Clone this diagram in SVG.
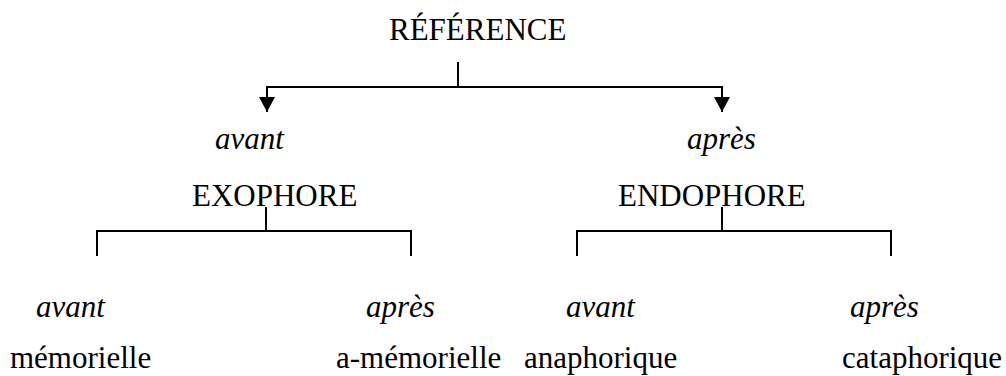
<svg xmlns="http://www.w3.org/2000/svg" width="1006" height="376" viewBox="0 0 1006 376">
<defs>
<style>
text{font-family:"Liberation Serif","Times New Roman",serif;font-size:31px;fill:#000}
.i{font-style:italic}
.c{stroke:#000;stroke-width:2;fill:none}
</style>
<marker id="arr" markerWidth="16" markerHeight="16" refX="8" refY="15" orient="0" markerUnits="userSpaceOnUse" viewBox="0 0 16 16">
<path d="M0,0 L16,0 L8,15 Z" fill="#000"/>
</marker>
</defs>
<rect width="1006" height="376" fill="#fff"/>
<g id="connectors">
<path class="c" d="M458,62 V87"/>
<path class="c" d="M266,87 H723"/>
<path class="c" d="M267,87 V112" marker-end="url(#arr)"/>
<path class="c" d="M722,87 V112" marker-end="url(#arr)"/>
<path class="c" d="M266,207 V231"/>
<path class="c" d="M97,256 V231 H411 V256"/>
<path class="c" d="M722,207 V231"/>
<path class="c" d="M577,256 V231 H891 V256"/>
</g>
<g id="reference"><text x="389" y="40">RÉFÉRENCE</text></g>
<g id="exo-avant"><text class="i" x="215" y="149">avant</text></g>
<g id="endo-apres"><text class="i" x="687" y="149">après</text></g>
<g id="exophore"><text x="192" y="206">EXOPHORE</text></g>
<g id="endophore"><text x="618" y="206">ENDOPHORE</text></g>
<g id="avant-1"><text class="i" x="36" y="317">avant</text></g>
<g id="apres-1"><text class="i" x="366" y="317">après</text></g>
<g id="avant-2"><text class="i" x="566" y="317">avant</text></g>
<g id="apres-2"><text class="i" x="850" y="317">après</text></g>
<g id="memorielle"><text x="10" y="368">mémorielle</text></g>
<g id="a-memorielle"><text x="336" y="368">a-mémorielle</text></g>
<g id="anaphorique"><text x="524" y="368">anaphorique</text></g>
<g id="cataphorique"><text x="842" y="368">cataphorique</text></g>
</svg>
